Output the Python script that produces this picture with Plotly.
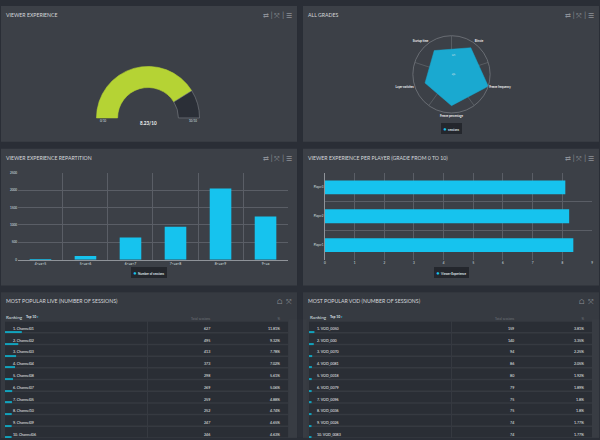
import pandas as pd
import plotly.express as px
import plotly.graph_objects as go

WIDTH, HEIGHT = 600, 440
BAR_COLOR = "#16c3ee"
GRID_COLOR = "#5a5e66"
TEXT_COLOR = "#dfe2e5"
TABLE_PANEL = "#363a41"
FONT = "Lato"


def x_pos(px_value):
    return px_value / WIDTH


def y_pos(px_value):
    return 1 - px_value / HEIGHT


def add_panel(fig, left, top, right, bottom, title, icons, color="#3c4047"):
    fig.add_shape(
        type="rect",
        xref="paper",
        yref="paper",
        x0=x_pos(left),
        x1=x_pos(right),
        y0=y_pos(bottom),
        y1=y_pos(top),
        fillcolor=color,
        line_width=0,
        layer="below",
    )
    add_text(fig, left + 4.5, top + 9, title, 5.2, "#d5d8dc", "left")
    add_text(fig, right - 4, top + 9, icons, 7, "#8d9197", "right")


def add_text(fig, x, y, text, size, color=TEXT_COLOR, anchor="center", **kwargs):
    fig.add_annotation(
        xref="paper",
        yref="paper",
        x=x_pos(x),
        y=y_pos(y),
        text=text,
        showarrow=False,
        xanchor=anchor,
        yanchor="middle",
        font={"size": size, "color": color, "family": FONT},
        borderpad=0,
        **kwargs,
    )


def add_legend(fig, x, y, text):
    add_text(
        fig,
        x,
        y,
        f"<span style='color:{BAR_COLOR};font-size:5px'>●</span>  {text}",
        3,
        anchor="center",
        bgcolor="#24272d",
        borderwidth=2.5,
        bordercolor="#24272d",
    )


def plot_gauge(fig):
    df_gauge = pd.DataFrame(
        {"part": ["grade", "rest", "hidden"], "value": [8.23, 1.77, 10]}
    )
    pie = px.pie(
        df_gauge,
        values="value",
        names="part",
        color="part",
        hole=0.59,
        color_discrete_map={
            "grade": "#b5d334",
            "rest": "#2b2f37",
            "hidden": "rgba(0,0,0,0)",
        },
    )
    pie.update_traces(
        rotation=270,
        direction="clockwise",
        sort=False,
        textinfo="none",
        hoverinfo="skip",
        showlegend=False,
        marker_line_color=["#b5d334", "#7c8087", "rgba(0,0,0,0)"],
        marker_line_width=0.6,
        domain={
            "x": [x_pos(95.5), x_pos(199.5)],
            "y": [y_pos(169), y_pos(65)],
        },
    )
    fig.add_trace(pie.data[0])
    add_text(fig, 103, 120, "0/10", 2.8)
    add_text(fig, 192.5, 120, "10/10", 2.8)
    add_text(fig, 148, 122.5, "<b>8.23/10</b>", 4.6, "#f2f3f4")


def plot_grades(fig):
    df_grades = pd.DataFrame(
        {
            "grade": ["Bitrate", "Freeze frequency", "Freeze percentage", "Layer switches", "Startup time"],
            "angle": [36, 108, 180, 252, 324],
            "sessions": [8.5, 10.0, 8.1, 7.2, 7.6],
        }
    )

    # Spokes sit between the grades, not on them
    for spoke in [0, 72, 144, 216, 288]:
        fig.add_trace(
            go.Scatterpolar(
                r=[0, 10],
                theta=[spoke, spoke],
                mode="lines",
                line={"color": "#6c7076", "width": 0.6},
                hoverinfo="skip",
                showlegend=False,
            )
        )

    radar = px.line_polar(df_grades, r="sessions", theta="angle", line_close=True)
    radar.update_traces(
        fill="toself",
        fillcolor="#1aa9d0",
        line_color="#1aa9d0",
        line_width=0.5,
        hoverinfo="skip",
    )
    fig.add_trace(radar.data[0])

    fig.update_layout(
        polar={
            "domain": {
                "x": [x_pos(413), x_pos(491)],
                "y": [y_pos(112), y_pos(34)],
            },
            "bgcolor": "rgba(0,0,0,0)",
            "angularaxis": {
                "direction": "clockwise",
                "rotation": 90,
                "tickmode": "array",
                "tickvals": df_grades["angle"].tolist(),
                "ticktext": [f"<b>{g}</b>" for g in df_grades["grade"]],
                "tickfont": {"size": 2.8, "color": "#f0f1f2", "family": FONT},
                "showgrid": False,
                "ticks": "",
                "linecolor": "#73777d",
                "linewidth": 0.8,
            },
            "radialaxis": {
                "range": [0, 10],
                "tickvals": [0, 5],
                "angle": 90,
                "tickangle": 0,
                "tickfont": {"size": 3.4, "color": "#e8eaec", "family": FONT},
                "gridcolor": "#565a60",
                "gridwidth": 0.5,
                "showline": False,
                "ticks": "",
            },
        }
    )
    add_legend(fig, 452, 128, "<b>sessions</b>")


def plot_repartition(fig):
    df_repartition = pd.DataFrame(
        {
            "range": ["4<=x<5", "5<=x<6", "6<=x<7", "7<=x<8", "8<=x<9", "9<=x"],
            "sessions": [5, 105, 640, 950, 2050, 1245],
        }
    )
    bars = px.bar(df_repartition, x="range", y="sessions")
    bars.update_traces(
        marker_color=BAR_COLOR, marker_line_width=0, width=0.48, xaxis="x", yaxis="y", hoverinfo="skip"
    )
    fig.add_trace(bars.data[0])
    fig.update_layout(
        xaxis={
            "domain": [x_pos(17), x_pos(288)],
            "tickson": "boundaries",
            "ticks": "",
            "showgrid": True,
            "gridcolor": GRID_COLOR,
            "gridwidth": 0.7,
            "tickfont": {"size": 3.4, "color": TEXT_COLOR, "family": FONT},
            "linecolor": "#8f9399",
            "anchor": "y",
        },
        yaxis={
            "domain": [y_pos(260), y_pos(172.5)],
            "range": [0, 2500],
            "tickvals": [0, 500, 1000, 1500, 2000, 2500],
            "gridcolor": GRID_COLOR,
            "gridwidth": 0.7,
            "zeroline": False,
            "tickfont": {"size": 3, "color": TEXT_COLOR, "family": FONT},
            "anchor": "x",
        },
    )
    add_legend(fig, 148, 272.5, "<b>Number of sessions</b>")


def plot_players(fig):
    df_players = pd.DataFrame(
        {"player": ["Player1", "Player2", "Player3"], "grade": [8.37, 8.23, 8.10]}
    )
    bars = px.bar(df_players, x="grade", y="player", orientation="h")
    bars.update_traces(
        marker_color=BAR_COLOR, marker_line_width=0, width=0.48, xaxis="x2", yaxis="y2", hoverinfo="skip"
    )
    fig.add_trace(bars.data[0])
    fig.update_layout(
        xaxis2={
            "domain": [x_pos(325), x_pos(593)],
            "range": [0, 9],
            "dtick": 1,
            "gridcolor": GRID_COLOR,
            "gridwidth": 0.7,
            "zeroline": False,
            "tickfont": {"size": 3, "color": TEXT_COLOR, "family": FONT},
            "anchor": "y2",
        },
        yaxis2={
            "domain": [y_pos(260), y_pos(172.5)],
            "tickson": "boundaries",
            "ticks": "",
            "showgrid": True,
            "gridcolor": GRID_COLOR,
            "gridwidth": 0.7,
            "linecolor": "#8f9399",
            "tickfont": {"size": 2.9, "color": TEXT_COLOR, "family": FONT},
            "anchor": "x2",
        },
    )
    add_legend(fig, 452, 272.5, "<b>Viewer Experience</b>")


def plot_ranking(fig, df_ranking, left, axis_number):
    right = left + 284
    first_column = 143
    full_scale = 100 * (right - left) / first_column  # percent bars only span the first column
    df_ranking = df_ranking.assign(rank=range(1, len(df_ranking) + 1), full=full_scale)
    names = [f"{k + 1}. {name}" for k, name in enumerate(df_ranking["name"])]
    percents = [f"{p}%" for p in df_ranking["percent"]]

    add_text(fig, left + 0.5, 317.5, "Ranking", 4.6, TEXT_COLOR, "left")
    add_text(fig, left + 20, 317.5, f"<b>Top 10</b> <span style='color:{BAR_COLOR}'>▾</span>", 3.4, TEXT_COLOR, "left")

    # Row backgrounds, then the progress bars under the names
    rows = px.bar(df_ranking, x="full", y="rank", orientation="h")
    rows.update_traces(
        marker_color="#2a2e35",
        marker_line_width=0,
        width=0.87,
        xaxis=f"x{axis_number}",
        yaxis=f"y{axis_number}",
        hoverinfo="skip",
    )
    fig.add_trace(rows.data[0])

    bars = px.bar(df_ranking, x="percent", y="rank", orientation="h")
    bars.update_traces(
        marker_color="#12a3bd",
        marker_line_width=0,
        width=0.1,
        offset=0.42,
        xaxis=f"x{axis_number}",
        yaxis=f"y{axis_number}",
        hoverinfo="skip",
    )
    fig.add_trace(bars.data[0])

    fig.add_trace(
        go.Table(
            domain={
                "x": [x_pos(left), x_pos(right)],
                "y": [y_pos(440), y_pos(310)],
            },
            columnwidth=[first_column, 71, 70],
            header={
                "values": ["", "Total sessions", "%"],
                "align": ["left", "right", "right"],
                "fill_color": "rgba(0,0,0,0)",
                "line_color": "rgba(0,0,0,0)",
                "font": {"size": 3.2, "color": "#6f7379", "family": FONT},
                "height": 10,
            },
            cells={
                "values": [names, df_ranking["sessions"].tolist(), percents],
                "align": ["left", "right", "right"],
                "fill_color": "rgba(0,0,0,0)",
                "line_color": "rgba(0,0,0,0)",
                "font": {"size": 3.6, "color": "#eceef0", "family": FONT},
                "height": 11.8,
            },
        )
    )

    fig.update_layout(
        {
            f"xaxis{axis_number}": {
                "domain": [x_pos(left), x_pos(right)],
                "range": [0, full_scale],
                "visible": False,
                "anchor": f"y{axis_number}",
            },
            f"yaxis{axis_number}": {
                "domain": [y_pos(440), y_pos(322)],
                "range": [10.5, 0.5],
                "visible": False,
                "anchor": f"x{axis_number}",
            },
        }
    )

    # Only the first column is set apart from the others
    fig.add_shape(
        type="line",
        xref="paper",
        yref="paper",
        x0=x_pos(left + first_column),
        x1=x_pos(left + first_column),
        y0=y_pos(440),
        y1=y_pos(322),
        line={"color": TABLE_PANEL, "width": 1},
    )


def main():
    fig = go.Figure()

    icons = "⇄ | ⤧ | ☰"
    add_panel(fig, 0, 4, 297, 141, "VIEWER EXPERIENCE", icons)
    add_panel(fig, 303, 4, 600, 141, "ALL GRADES", icons)
    add_panel(fig, 0, 148, 297, 286, "VIEWER EXPERIENCE REPARTITION", icons)
    add_panel(fig, 303, 148, 600, 286, "VIEWER EXPERIENCE PER PLAYER (GRADE FROM 0 TO 10)", icons)
    add_panel(fig, 0, 293, 297, 440, "MOST POPULAR LIVE (NUMBER OF SESSIONS)", "⌂  ⤧", TABLE_PANEL)
    add_panel(fig, 303, 293, 600, 440, "MOST POPULAR VOD (NUMBER OF SESSIONS)", "⌂  ⤧", TABLE_PANEL)

    plot_gauge(fig)
    plot_grades(fig)
    plot_repartition(fig)
    plot_players(fig)

    df_live = pd.DataFrame(
        {
            "name": ["Channel01", "Channel02", "Channel03", "Channel04", "Channel08",
                     "Channel07", "Channel05", "Channel10", "Channel09", "Channel06"],
            "sessions": [627, 495, 413, 373, 298, 269, 259, 252, 247, 246],
            "percent": [11.81, 9.32, 7.78, 7.02, 5.61, 5.06, 4.88, 4.74, 4.65, 4.63],
        }
    )
    df_vod = pd.DataFrame(
        {
            "name": ["VOD_0050", "VOD_000", "VOD_0070", "VOD_0081", "VOD_0018",
                     "VOD_0079", "VOD_0096", "VOD_0036", "VOD_0026", "VOD_0083"],
            "sessions": [159, 140, 94, 86, 80, 79, 75, 75, 74, 74],
            "percent": [3.81, 3.35, 2.25, 2.05, 1.92, 1.89, 1.8, 1.8, 1.77, 1.77],
        }
    )
    plot_ranking(fig, df_live, 4, 3)
    plot_ranking(fig, df_vod, 309, 4)

    fig.update_layout(
        width=WIDTH,
        height=HEIGHT,
        margin={"l": 0, "r": 0, "t": 0, "b": 0},
        paper_bgcolor="#2a2e36",
        plot_bgcolor="rgba(0,0,0,0)",
        showlegend=False,
        barmode="overlay",
        font={"family": FONT},
    )
    fig.write_html(
        "out.html",
        config={"displayModeBar": False},
        post_script="document.body.style.margin = '0';",
    )


if __name__ == "__main__":
    main()
